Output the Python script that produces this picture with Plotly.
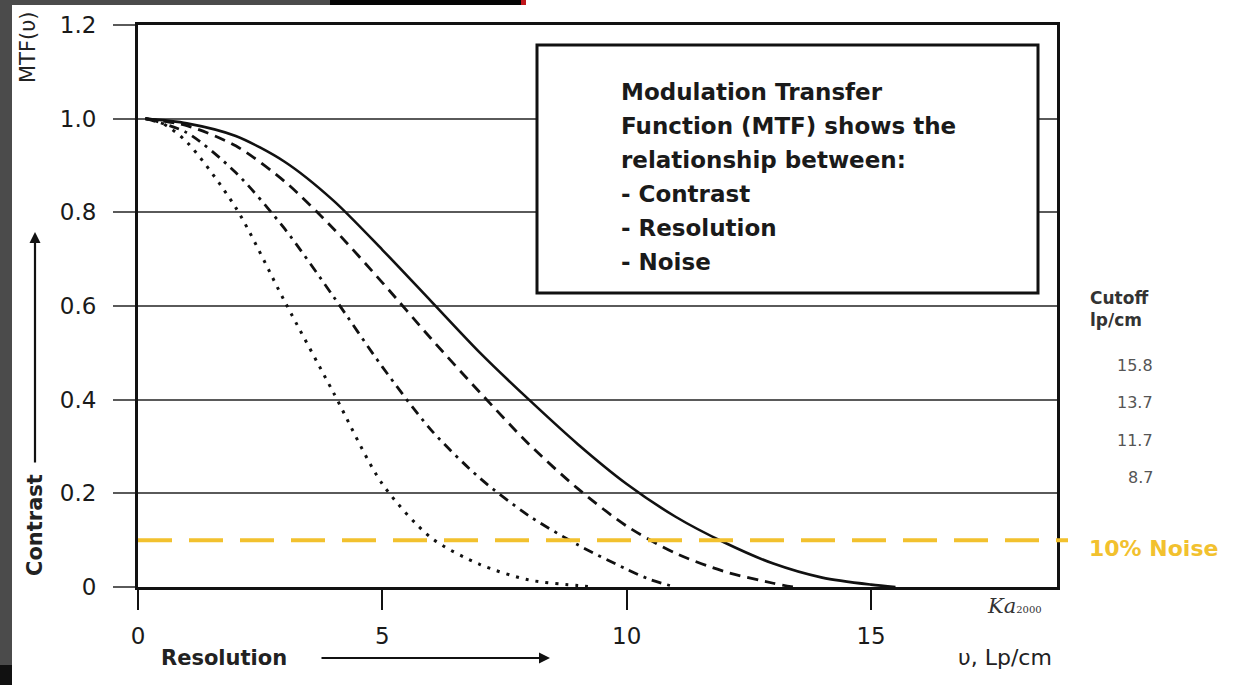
import plotly.graph_objects as go

# ---- MTF curves (contrast vs. spatial frequency, lp/cm) ----
cutoffs = [15.8, 13.7, 11.7, 8.7]

freq_a = [0.15, 1, 2, 3, 4, 5, 6, 7, 8, 9, 10, 11, 12, 13, 14, 15, 15.5]
mtf_a = [1.0, 0.99, 0.963, 0.908, 0.825, 0.72, 0.61, 0.50, 0.40, 0.305, 0.22, 0.15, 0.095, 0.05, 0.02, 0.005, 0.0]

freq_b = [0.15, 1, 2, 3, 4, 5, 6, 7, 8, 9, 10, 11, 12, 13, 13.4]
mtf_b = [1.0, 0.985, 0.942, 0.866, 0.765, 0.65, 0.53, 0.415, 0.305, 0.21, 0.13, 0.072, 0.033, 0.008, 0.0]

freq_c = [0.15, 1, 2, 3, 4, 5, 6, 7, 8, 9, 10, 10.5, 11]
mtf_c = [1.0, 0.97, 0.885, 0.765, 0.62, 0.47, 0.335, 0.232, 0.152, 0.09, 0.038, 0.015, 0.0]

freq_d = [0.15, 0.5, 1, 2, 3, 4, 5, 6, 7, 8, 9, 9.3]
mtf_d = [1.0, 0.99, 0.95, 0.81, 0.61, 0.415, 0.22, 0.105, 0.048, 0.015, 0.003, 0.0]

noise_level = 0.1

x_ticks = [0, 5, 10, 15]
y_ticks = [0, 0.2, 0.4, 0.6, 0.8, 1.0, 1.2]
y_tick_text = ["0", "0.2", "0.4", "0.6", "0.8", "1.0", "1.2"]

info_lines = [
    "Modulation Transfer",
    "Function (MTF) shows the",
    "relationship between:",
    "- Contrast",
    "- Resolution",
    "- Noise",
]

# ---- page geometry ----
W, H = 1247, 685
L, R, T, B = 138, 1057, 25, 587
FONT = "DejaVu Sans"
GOLD = "#F2C12E"


def px(xp):
    return (xp - L) / (R - L)


def py(yp):
    return (B - yp) / (B - T)


fig = go.Figure()

styles = [
    dict(dash="solid", width=2.6),
    dict(dash="11px,7px", width=2.8),
    dict(dash="10px,6px,3px,6px", width=2.8),
    dict(dash="3px,7px", width=3),
]
for (fx, fy), st, c in zip(
    [(freq_a, mtf_a), (freq_b, mtf_b), (freq_c, mtf_c), (freq_d, mtf_d)], styles, cutoffs
):
    fig.add_trace(go.Scatter(
        x=fx, y=fy, mode="lines", name=f"{c} lp/cm",
        line=dict(color="#111111", shape="spline", smoothing=0.8, **st),
        showlegend=False, hoverinfo="skip",
    ))

shapes = [
    # dark frame around the page
    dict(type="rect", xref="paper", yref="paper", x0=px(0), x1=px(12), y0=py(H), y1=py(0),
         fillcolor="#4b4b4b", line_width=0, layer="below"),
    dict(type="rect", xref="paper", yref="paper", x0=px(0), x1=px(12), y0=py(H), y1=py(665),
         fillcolor="#111111", line_width=0, layer="below"),
    dict(type="rect", xref="paper", yref="paper", x0=px(0), x1=px(330), y0=py(5), y1=py(0),
         fillcolor="#4b4b4b", line_width=0, layer="below"),
    dict(type="rect", xref="paper", yref="paper", x0=px(330), x1=px(521), y0=py(5), y1=py(0),
         fillcolor="#050505", line_width=0, layer="below"),
    dict(type="rect", xref="paper", yref="paper", x0=px(521), x1=px(526), y0=py(5), y1=py(0),
         fillcolor="#c0161b", line_width=0, layer="below"),
    # 10% noise threshold
    dict(type="line", xref="paper", yref="y", x0=0, x1=px(1068), y0=noise_level, y1=noise_level,
         line=dict(color=GOLD, width=4, dash="34px,17px"), layer="above"),
    # info box
    dict(type="rect", xref="paper", yref="paper", x0=px(537), x1=px(1038), y0=py(293), y1=py(45),
         fillcolor="white", line=dict(color="#111111", width=3), layer="above"),
]

annotations = []
for i, line in enumerate(info_lines):
    annotations.append(dict(
        xref="paper", yref="paper", x=px(619), y=py(92 + i * 34), text=f"<b>{line}</b>",
        showarrow=False, xanchor="left", yanchor="middle",
        font=dict(family=FONT, size=23, color="#1a1a1a"),
    ))

# cutoff column
annotations.append(dict(xref="paper", yref="paper", x=px(1088), y=py(309),
                        text="<b>Cutoff<br>lp/cm</b>", showarrow=False, xanchor="left",
                        yanchor="middle", align="left",
                        font=dict(family=FONT, size=17, color="#333333")))
for c, yp in zip(cutoffs, [365, 403, 440, 477]):
    annotations.append(dict(xref="paper", yref="paper", x=px(1155), y=py(yp), text=f"{c}",
                            showarrow=False, xanchor="right", yanchor="middle",
                            font=dict(family=FONT, size=16, color="#555555")))

annotations += [
    dict(xref="paper", yref="paper", x=px(1087), y=py(548), text="<b>10% Noise</b>",
         showarrow=False, xanchor="left", yanchor="middle",
         font=dict(family=FONT, size=22, color=GOLD)),
    dict(xref="paper", yref="paper", x=px(28), y=py(47), text="MTF(υ)", textangle=-90,
         showarrow=False, xanchor="center", yanchor="middle",
         font=dict(family=FONT, size=21, color="#222222")),
    dict(xref="paper", yref="paper", x=px(35), y=py(525), text="<b>Contrast</b>", textangle=-90,
         showarrow=False, xanchor="center", yanchor="middle",
         font=dict(family=FONT, size=21, color="#222222")),
    dict(xref="paper", yref="paper", x=px(35), y=py(232), text="", showarrow=True,
         ax=0, ay=232, arrowhead=2, arrowsize=1, arrowwidth=2.2, arrowcolor="#111111"),
    dict(xref="paper", yref="paper", x=px(224), y=py(658), text="<b>Resolution</b>",
         showarrow=False, xanchor="center", yanchor="middle",
         font=dict(family=FONT, size=21, color="#222222")),
    dict(xref="paper", yref="paper", x=px(550), y=py(658), text="", showarrow=True,
         ax=-230, ay=0, arrowhead=2, arrowsize=1, arrowwidth=2.2, arrowcolor="#111111"),
    dict(xref="paper", yref="paper", x=px(1005), y=py(657), text="υ, Lp/cm",
         showarrow=False, xanchor="center", yanchor="middle",
         font=dict(family=FONT, size=22, color="#222222")),
    dict(xref="paper", yref="paper", x=px(1014), y=py(606),
         text="<i>Ka</i><span style='font-size:10px'>2000</span>",
         showarrow=False, xanchor="center", yanchor="middle",
         font=dict(family="DejaVu Serif", size=21, color="#333333")),
]

fig.update_layout(
    width=W, height=H, autosize=False,
    margin=dict(l=L, r=W - R, t=T, b=H - B, pad=0),
    paper_bgcolor="white", plot_bgcolor="white",
    shapes=shapes, annotations=annotations, showlegend=False,
    xaxis=dict(
        range=[0, (R - L) / 48.87], tickvals=x_ticks, ticktext=[str(v) for v in x_ticks],
        showgrid=False, zeroline=False, showline=True, linecolor="#111111", linewidth=3,
        mirror=True, ticks="outside", ticklen=20, tickwidth=2, tickcolor="#111111",
        ticklabelstandoff=6, tickfont=dict(family=FONT, size=23, color="#1a1a1a"),
    ),
    yaxis=dict(
        range=[0, 1.2], tickvals=y_ticks, ticktext=y_tick_text,
        showgrid=True, gridcolor="#5a5a5a", gridwidth=2, zeroline=False,
        showline=True, linecolor="#111111", linewidth=3, mirror=True,
        ticks="outside", ticklen=22, tickwidth=2, tickcolor="#5a5a5a",
        ticklabelstandoff=12, tickfont=dict(family=FONT, size=23, color="#1a1a1a"),
    ),
)

fig.write_html("out.html")
